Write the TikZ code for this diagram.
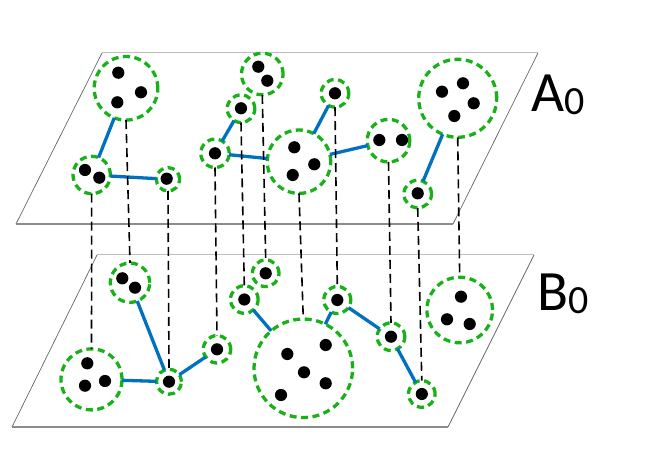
\documentclass[tikz,border=0pt]{standalone}
\usepackage{fontspec}
\setmainfont{Carlito}
\definecolor{clgreen}{RGB}{24,178,24}
\definecolor{edgeblue}{RGB}{0,112,192}
\tikzset{
  clus/.style={circle, draw=clgreen, line width=3.3pt, dash pattern=on 7pt off 4.5pt, inner sep=0pt, outer sep=0pt},
  dot/.style={circle, fill=black, inner sep=0pt, minimum size=12.2pt},
  link/.style={draw=edgeblue, line width=3.3pt},
  proj/.style={draw=black, line width=1.6pt, dash pattern=on 9pt off 5pt},
  planetop/.style={draw=black!25, line width=1pt},
  planeside/.style={draw=black!60, line width=0.7pt},
  planebot/.style={draw=black!45, line width=1.4pt},
  lbl/.style={anchor=base west, inner sep=0pt, text=black}
}
\begin{document}
\begin{tikzpicture}[x=1pt, y=-1pt]
\useasboundingbox (0,0) rectangle (664,470);
% planes
\coordinate (A1) at (16,224); \coordinate (A2) at (453,224);
\coordinate (A3) at (538,53); \coordinate (A4) at (102,53);
\coordinate (B1) at (12,427); \coordinate (B2) at (448,427);
\coordinate (B3) at (534,255); \coordinate (B4) at (97,255);
\draw[planetop] (A4) -- (A3);
\draw[planeside] (A3) -- (A2);
\draw[planeside] (A4) -- (A1);
\draw[planebot] (A1) -- (A2);
\draw[planetop] (B4) -- (B3);
\draw[planeside] (B3) -- (B2);
\draw[planeside] (B4) -- (B1);
\draw[planebot] (B1) -- (B2);
% labels
\node[lbl] (labA) at (531,112) {\fontsize{57}{57}\selectfont A\raisebox{-3pt}{\fontsize{40}{40}\selectfont 0}};
\node[lbl] (labB) at (537,311) {\fontsize{57}{57}\selectfont B\raisebox{-3pt}{\fontsize{40}{40}\selectfont 0}};
% clusters plane A
\node[clus, minimum size=63.6pt] (C1) at (126,88.3) {};
\node[clus, minimum size=37.4pt] (C2) at (91.7,175) {};
\node[clus, minimum size=23.4pt] (C3) at (168,179.3) {};
\node[clus, minimum size=41.6pt] (C4) at (262.3,74) {};
\node[clus, minimum size=27.6pt] (C5) at (241,108.7) {};
\node[clus, minimum size=28.4pt] (C6) at (215,153.3) {};
\node[clus, minimum size=63.4pt] (C7) at (299,161.7) {};
\node[clus, minimum size=27.6pt] (C8) at (335,93.3) {};
\node[clus, minimum size=42.6pt] (C9) at (388.5,140.7) {};
\node[clus, minimum size=78pt] (C10) at (457.7,98.3) {};
\node[clus, minimum size=27.6pt] (C11) at (417.7,194) {};
% clusters plane B
\node[clus, minimum size=61pt] (D1) at (91.5,379.4) {};
\node[clus, minimum size=39.4pt] (D2) at (130,282.7) {};
\node[clus, minimum size=25pt] (D3) at (169,381.7) {};
\node[clus, minimum size=27.4pt] (D4) at (217,349.3) {};
\node[clus, minimum size=27.6pt] (D5) at (244.3,299.5) {};
\node[clus, minimum size=26.6pt] (D6) at (265.7,273.3) {};
\node[clus, minimum size=98.6pt] (D7) at (303.3,368.3) {};
\node[clus, minimum size=27pt] (D8) at (337.3,300) {};
\node[clus, minimum size=27.6pt] (D9) at (391,336.7) {};
\node[clus, minimum size=26.6pt] (D10) at (421.8,394) {};
\node[clus, minimum size=65.6pt] (D11) at (459.7,310) {};
% dots plane A
\node[dot] (C1a) at (118.3,72.7) {};
\node[dot] (C1b) at (141,92.3) {};
\node[dot] (C1c) at (117.3,102.3) {};
\node[dot] (C2a) at (85,170) {};
\node[dot] (C2b) at (99.3,177.7) {};
\node[dot] (C3a) at (166.7,178.7) {};
\node[dot] (C4a) at (258.3,66.7) {};
\node[dot] (C4b) at (267.3,80.7) {};
\node[dot] (C5a) at (241,108.3) {};
\node[dot] (C6a) at (215,153.3) {};
\node[dot] (C7a) at (294.3,147.3) {};
\node[dot] (C7b) at (314.3,164.3) {};
\node[dot] (C7c) at (292.7,175) {};
\node[dot] (C8a) at (335,93.3) {};
\node[dot] (C9a) at (379.3,140) {};
\node[dot] (C9b) at (402,140) {};
\node[dot] (C10a) at (442,91.7) {};
\node[dot] (C10b) at (463,83.3) {};
\node[dot] (C10c) at (473.7,103.3) {};
\node[dot] (C10d) at (454.3,116) {};
\node[dot] (C11a) at (417.7,193.3) {};
% dots plane B
\node[dot] (D1a) at (87.3,363.3) {};
\node[dot] (D1b) at (105,381) {};
\node[dot] (D1c) at (85,385.7) {};
\node[dot] (D2a) at (122.3,278.3) {};
\node[dot] (D2b) at (135,287.7) {};
\node[dot] (D3a) at (169,381.7) {};
\node[dot] (D4a) at (217,349.3) {};
\node[dot] (D5a) at (244.3,299.5) {};
\node[dot] (D6a) at (265.7,273.3) {};
\node[dot] (D7a) at (287.3,354) {};
\node[dot] (D7b) at (325.7,345) {};
\node[dot] (D7c) at (304,372.3) {};
\node[dot] (D7d) at (325.7,383.3) {};
\node[dot] (D7e) at (281,395) {};
\node[dot] (D8a) at (337.3,300) {};
\node[dot] (D9a) at (391,336.7) {};
\node[dot] (D10a) at (421.8,394) {};
\node[dot] (D11a) at (461,296.7) {};
\node[dot] (D11b) at (447,319.3) {};
\node[dot] (D11c) at (469.7,324) {};
% blue links
\draw[link] (C1) -- (C2);
\draw[link] (C2) -- (C3);
\draw[link] (C6) -- (C5);
\draw[link] (C6) -- (C7);
\draw[link] (C7) -- (C8);
\draw[link] (C7) -- (C9);
\draw[link] (C10) -- (C11);
\draw[link] (D1) -- (D3);
\draw[link] (D2) -- (D3);
\draw[link] (D3) -- (D4);
\draw[link] (D5) -- (D7);
\draw[link] (D7) -- (D8);
\draw[link] (D8) -- (D9);
\draw[link] (D9) -- (D10);
% projections
\draw[proj] (C2.south) -- (D1.north);
\draw[proj] (C1.south) -- (D2.north);
\draw[proj] (C3.south) -- (D3.north);
\draw[proj] (C6.south) -- (D4.north);
\draw[proj] (C5.south) -- (D5.north);
\draw[proj] (C4.south) -- (D6.north);
\draw[proj] (C7.south) -- (D7.north);
\draw[proj] (C8.south) -- (D8.north);
\draw[proj] (C9.south) -- (D9.north);
\draw[proj] (C11.south) -- (D10.north);
\draw[proj] (C10.south) -- (D11.north);
\end{tikzpicture}
\end{document}
